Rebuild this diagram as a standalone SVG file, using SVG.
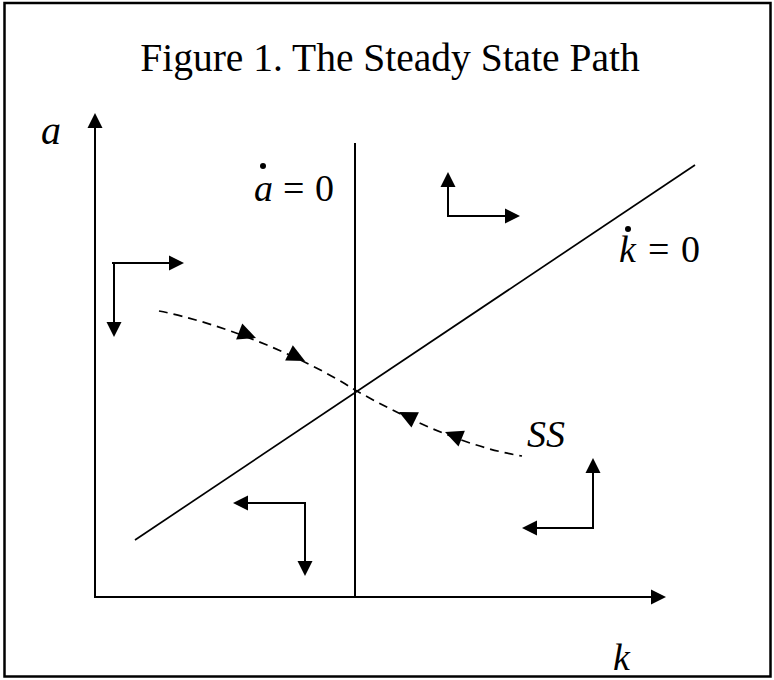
<svg xmlns="http://www.w3.org/2000/svg" xmlns:xlink="http://www.w3.org/1999/xlink" width="774" height="680" viewBox="0 0 774 680">
<style>
.ln{stroke:#000;stroke-width:2;fill:none}
.thin{stroke:#000;stroke-width:1.7;fill:none}
.dash{stroke:#000;stroke-width:1.7;fill:none;stroke-dasharray:9 6}
.t{font-family:"Liberation Serif","Times New Roman",serif;fill:#000}
.i{font-style:italic}
</style>
<defs>
<polygon id="ah" points="0,0 -15,-7.5 -15,7.5" fill="#000"/>
<polygon id="ph" points="0,0 -18,-8.5 -18,8.5" fill="#000"/>
</defs>
<rect x="4.5" y="3" width="766" height="673.5" fill="#fff" stroke="#000" stroke-width="2.5"/>
<g id="title"><text class="t" x="390" y="71" font-size="39.5" text-anchor="middle">Figure 1. The Steady State Path</text></g>
<g id="axes">
<line class="ln" x1="95" y1="597" x2="95" y2="126"/>
<use xlink:href="#ah" transform="translate(95,113) rotate(-90)"/>
<line class="ln" x1="94" y1="597" x2="652" y2="597"/>
<use xlink:href="#ah" transform="translate(666,597)"/>
<text class="t i" x="41" y="144" font-size="40">a</text>
<text class="t i" x="613" y="670" font-size="38">k</text>
</g>
<g id="a-dot-zero">
<line class="ln" x1="355" y1="143" x2="355" y2="597"/>
<circle cx="263" cy="166" r="3" fill="#000"/>
<text class="t" y="201" font-size="38"><tspan class="i" x="254">a</tspan><tspan x="283">=</tspan><tspan x="315">0</tspan></text>
</g>
<g id="k-dot-zero">
<line class="thin" x1="135" y1="540" x2="695" y2="165"/>
<circle cx="628" cy="229" r="3" fill="#000"/>
<text class="t" y="262" font-size="38"><tspan class="i" x="619">k</tspan><tspan x="648">=</tspan><tspan x="681">0</tspan></text>
</g>
<g id="ss-path">
<path class="dash" d="M159,311 C220,323 300,355 355,390 C405,418 465,447 522,456"/>
<use xlink:href="#ph" transform="translate(256,338) rotate(21)"/>
<use xlink:href="#ph" transform="translate(305,361) rotate(27)"/>
<use xlink:href="#ph" transform="translate(399,412) rotate(206)"/>
<use xlink:href="#ph" transform="translate(445,432) rotate(202)"/>
<text class="t i" x="527" y="447" font-size="38">SS</text>
</g>
<g id="arrows-top-left">
<line class="ln" x1="112" y1="263" x2="170" y2="263"/>
<use xlink:href="#ah" transform="translate(184,263)"/>
<line class="ln" x1="114" y1="263" x2="114" y2="323"/>
<use xlink:href="#ah" transform="translate(114,337) rotate(90)"/>
</g>
<g id="arrows-top-right">
<line class="ln" x1="448" y1="216" x2="448" y2="186"/>
<use xlink:href="#ah" transform="translate(448,172) rotate(-90)"/>
<line class="ln" x1="447" y1="216" x2="506" y2="216"/>
<use xlink:href="#ah" transform="translate(520,216)"/>
</g>
<g id="arrows-bottom-left">
<line class="ln" x1="306" y1="503" x2="247" y2="503"/>
<use xlink:href="#ah" transform="translate(233,503) rotate(180)"/>
<line class="ln" x1="305" y1="503" x2="305" y2="562"/>
<use xlink:href="#ah" transform="translate(305,576) rotate(90)"/>
</g>
<g id="arrows-bottom-right">
<line class="ln" x1="593" y1="529" x2="593" y2="472"/>
<use xlink:href="#ah" transform="translate(593,458) rotate(-90)"/>
<line class="ln" x1="594" y1="528" x2="536" y2="528"/>
<use xlink:href="#ah" transform="translate(522,528) rotate(180)"/>
</g>
</svg>
